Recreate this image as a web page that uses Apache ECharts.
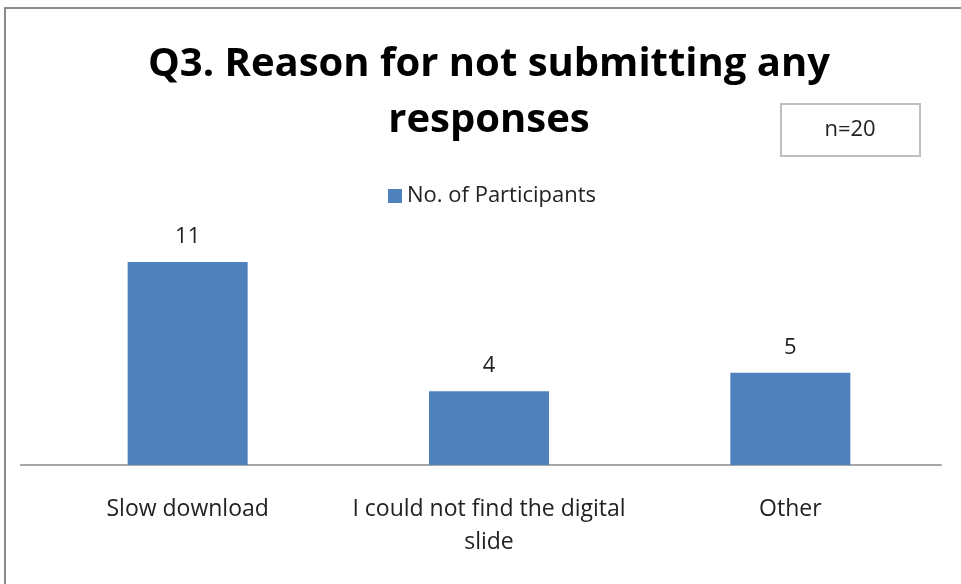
<!DOCTYPE html>
<html>
<head>
<meta charset="utf-8">
<script src="https://cdn.jsdelivr.net/npm/echarts@6/dist/echarts.min.js"></script>
<style>
  html, body { margin: 0; padding: 0; background: #fff; }
  #chart { width: 961px; height: 584px; }
</style>
</head>
<body>
<div id="chart"></div>
<script>
const categories = ['Slow download', 'I could not find the digital\nslide', 'Other'];
const participants = [11, 4, 5];
const seriesName = 'No. of Participants';
const titleText = 'Q3. Reason for not submitting any\nresponses';
const sampleNote = 'n=20';

const FONT = '"Open Sans", Lato, sans-serif';
const chart = echarts.init(document.getElementById('chart'), null, { renderer: 'canvas' });

const option = {
  backgroundColor: '#fff',
  animation: false,
  title: {
    text: titleText,
    left: 484,
    textAlign: 'center',
    top: 32,
    textStyle: { fontFamily: FONT, fontSize: 40, fontWeight: 'bold', color: '#000', lineHeight: 56 }
  },
  legend: {
    data: [seriesName],
    top: 180,
    left: 383,
    itemWidth: 14,
    itemHeight: 14,
    itemGap: 8,
    textStyle: { fontFamily: FONT, fontSize: 22, color: '#222' },
    icon: 'rect'
  },
  grid: { left: 37, right: 20, top: 262, bottom: 584 - 465, containLabel: false },
  xAxis: {
    type: 'category',
    data: categories,
    axisLine: { show: true, lineStyle: { color: '#a6a6a6', width: 2 } },
    axisTick: { show: false },
    axisLabel: { fontFamily: FONT, fontSize: 23, color: '#222', margin: 28, lineHeight: 33, interval: 0 }
  },
  yAxis: {
    type: 'value',
    min: 0,
    max: 11,
    show: false,
    splitLine: { show: false }
  },
  series: [{
    name: seriesName,
    type: 'bar',
    data: participants,
    barWidth: 120,
    itemStyle: { color: '#4f81bd' },
    label: { show: true, position: 'top', distance: 14, fontFamily: FONT, fontSize: 22, color: '#222' }
  }],
  graphic: [
    { type: 'rect', shape: { x: 5, y: 8, width: 980, height: 600 }, style: { fill: 'none', stroke: '#8c8c8c', lineWidth: 2 }, z: 100 },
    { type: 'rect', shape: { x: 781, y: 104, width: 139, height: 52 }, style: { fill: '#fff', stroke: '#bfbfbf', lineWidth: 2 } },
    { type: 'text', x: 850, y: 130, style: { text: sampleNote, fontFamily: FONT, fontSize: 22, fill: '#222', align: 'center', verticalAlign: 'middle' } }
  ]
};
chart.setOption(option);

// extend the baseline to the left edge of the plot frame
const base = chart.convertToPixel({ gridIndex: 0 }, [0, 0]);
chart.setOption({
  graphic: option.graphic.concat([
    { type: 'line', shape: { x1: 20, y1: base[1], x2: 941, y2: base[1] }, style: { stroke: '#a6a6a6', lineWidth: 2 } }
  ])
});
</script>
</body>
</html>
